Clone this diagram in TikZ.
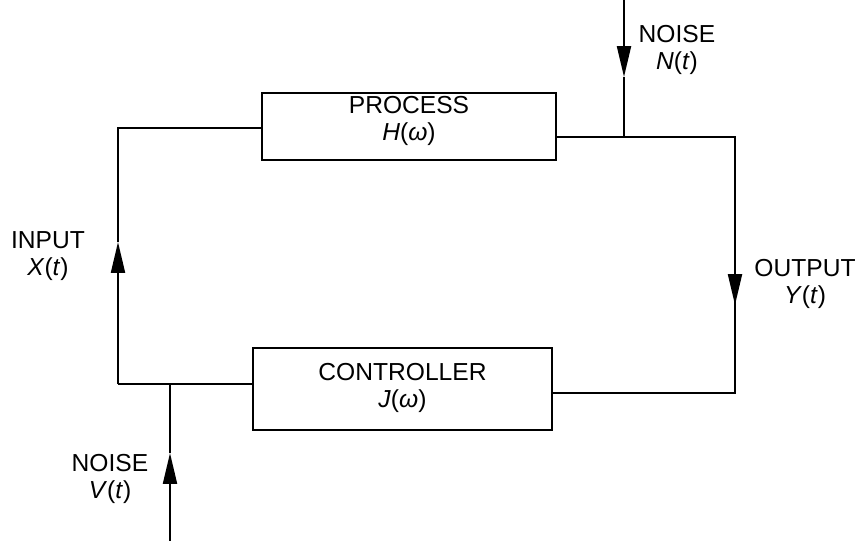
\documentclass[tikz,border=0pt]{standalone}
\usepackage{fontspec}
\setmainfont{Liberation Sans}
\usetikzlibrary{arrows.meta}
\begin{document}
\begin{tikzpicture}[x=0.02cm,y=-0.02cm,
  wire/.style={line width=1.2pt},
  blk/.style={draw,line width=1.3pt,rectangle,align=center,inner sep=0pt},
  lbl/.style={align=center,inner sep=0pt,font=\fontsize{14}{15.5}\selectfont},
  tip/.style={-{Triangle[length=0.62cm,width=0.28cm]}}]
\useasboundingbox (0,0) rectangle (859,541);
\node[blk,minimum width=5.88cm,minimum height=1.34cm] (proc) at (409,126.5) {};
\node[lbl] (proct) at (409,121) {PROCESS\\\textit{H}(\textit{ω})};
\node[blk,minimum width=5.98cm,minimum height=1.64cm] (ctrl) at (402.5,389) {};
\node[lbl] (ctrlt) at (402.5,388) {CONTROLLER\\\textit{J}(\textit{ω})};
% corners
\coordinate (tl) at (118,128);
\coordinate (bl) at (118,384);
\coordinate (tr) at (735,137);
\coordinate (br) at (735,393);
\coordinate (xin) at (118,242);
\coordinate (yout) at (735,305);
\coordinate (ntop) at (624,0);
\coordinate (ntip) at (624,77);
\coordinate (nj) at (624,137);
\coordinate (vbot) at (170,541);
\coordinate (vtip) at (170,453);
\coordinate (vj) at (170,384);
% loop
\draw[wire] (proc.west |- tl) -- (tl) -- (xin);
\draw[wire,tip] (bl) -- (xin);
\draw[wire] (ctrl.west |- bl) -- (bl);
\draw[wire] (proc.east |- tr) -- (tr) -- (br) -- (ctrl.east |- br);
\draw[wire,tip] (tr) -- (yout);
% noise N
\draw[wire,tip] (ntop) -- (ntip);
\draw[wire] (ntip) -- (nj);
% noise V
\draw[wire,tip] (vbot) -- (vtip);
\draw[wire] (vtip) -- (vj);
% labels
\node[lbl] (nl) at (677,50) {NOISE\\\textit{N}(\textit{t})};
\node[lbl] (il) at (48,256) {INPUT\\\textit{X}(\textit{t})};
\node[lbl] (ol) at (805,284) {OUTPUT\\\textit{Y}(\textit{t})};
\node[lbl] (vl) at (110,479) {NOISE\\\textit{V}(\textit{t})};
\end{tikzpicture}
\end{document}
